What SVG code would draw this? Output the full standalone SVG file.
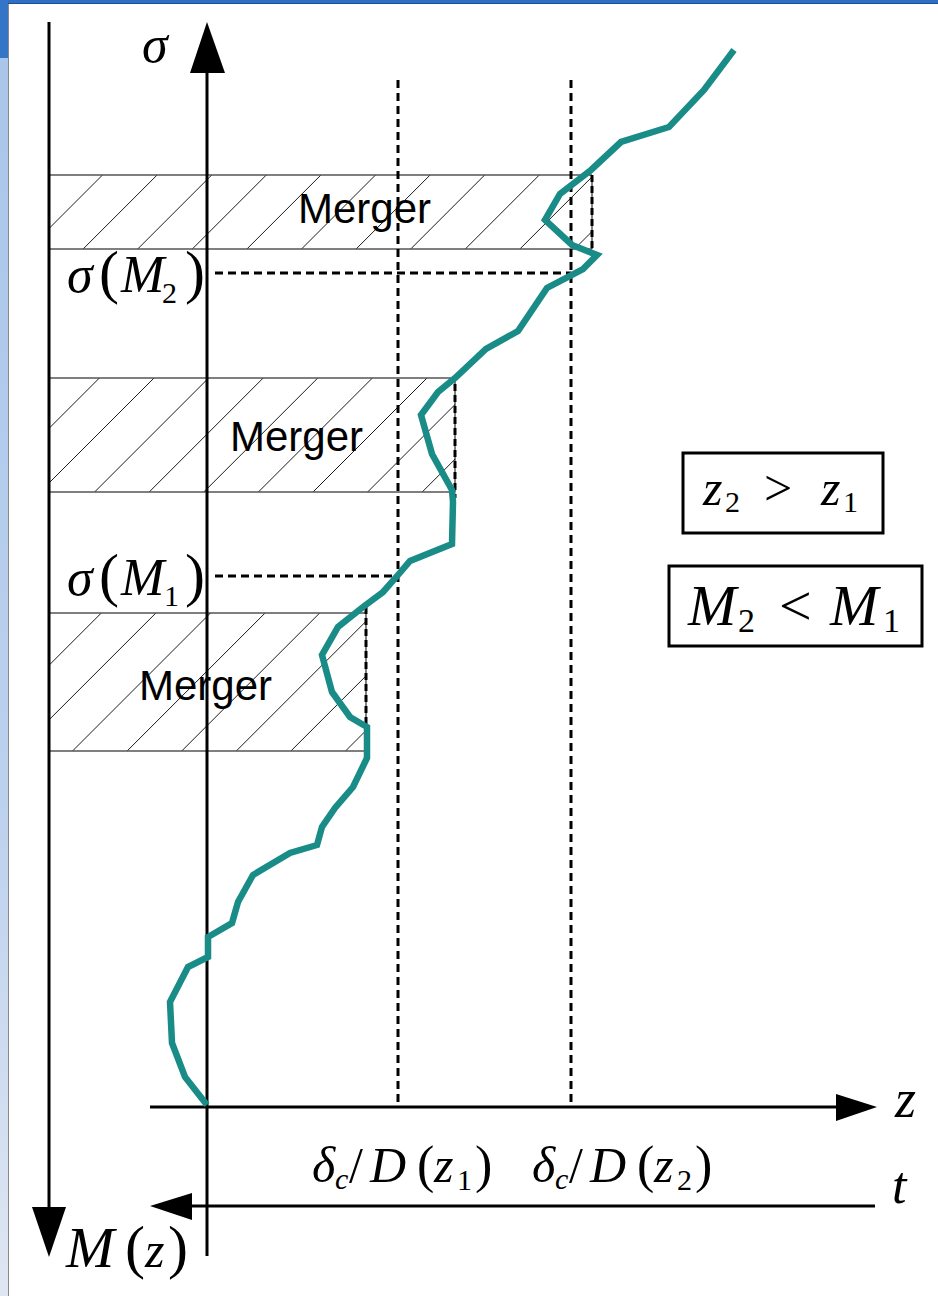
<svg xmlns="http://www.w3.org/2000/svg" width="938" height="1296" viewBox="0 0 938 1296">
<defs>
<style>
.ax{stroke:#000;stroke-width:3;fill:none}
.head{fill:#000}
.hatch{stroke:#000;stroke-width:0.9;fill:none}
.edge{stroke:#555;stroke-width:1.3;fill:none}
.dash{stroke:#000;stroke-width:3;stroke-dasharray:8 5;fill:none}
.dashr{stroke:#000;stroke-width:3;stroke-dasharray:7 4;fill:none}
.thin{stroke:#000;stroke-width:1;fill:none}
.curve{stroke:#1a8c88;stroke-width:6.5;fill:none;stroke-linejoin:miter}
.m{font-family:"Liberation Serif","Times New Roman",serif;font-style:italic;fill:#000}
.r{font-family:"Liberation Serif","Times New Roman",serif;font-style:normal;fill:#000}
.lab{font-family:"Liberation Sans",Arial,sans-serif;font-size:42px;fill:#000}
.box{fill:#fff;stroke:#000;stroke-width:3}
</style>
<linearGradient id="side" x1="0" y1="0" x2="0" y2="1">
<stop offset="0" stop-color="#a9c5ea"/>
<stop offset="0.6" stop-color="#bcd1ee"/>
<stop offset="1" stop-color="#dfe6f2"/>
</linearGradient>
<clipPath id="c1"><rect x="50" y="175" width="542" height="74"/></clipPath>
<clipPath id="c2"><rect x="50" y="378" width="405" height="114"/></clipPath>
<clipPath id="c3"><rect x="50" y="613" width="316" height="138"/></clipPath>
</defs>

<g id="frame">
<rect x="0" y="0" width="938" height="1296" fill="#fff"/>
<rect x="0" y="0" width="938" height="3" fill="#2d6fc4"/>
<line x1="0" y1="3.5" x2="938" y2="3.5" stroke="#1e4f8e" stroke-width="1"/>
<rect x="0" y="58" width="8" height="1238" fill="url(#side)"/>
<rect x="0" y="0" width="8" height="58" fill="#3575c7"/>
<line x1="8.5" y1="4" x2="8.5" y2="1296" stroke="#8a8a8a" stroke-width="1"/>
</g>

<g id="merger-1">
<path class="hatch" clip-path="url(#c1)" d="M28.5,249L102.5,175M83.1,249L157.1,175M137.7,249L211.7,175M192.3,249L266.3,175M246.9,249L320.9,175M301.5,249L375.5,175M356.1,249L430.1,175M410.7,249L484.7,175M465.3,249L539.3,175M519.9,249L593.9,175M574.5,249L648.5,175"/>
<line class="edge" x1="50" y1="175" x2="592" y2="175"/>
<line class="edge" x1="50" y1="249" x2="592" y2="249"/>
<line class="thin" x1="592" y1="175" x2="592" y2="249"/>
<line class="dashr" x1="592" y1="175" x2="592" y2="250"/>
<text class="lab" x="298" y="223">Merger</text>
</g>

<g id="merger-2">
<path class="hatch" clip-path="url(#c2)" d="M-14.6,492L99.4,378M40,492L154,378M94.6,492L208.6,378M149.2,492L263.2,378M203.8,492L317.8,378M258.4,492L372.4,378M313,492L427,378M367.6,492L481.6,378M422.2,492L536.2,378"/>
<line class="edge" x1="50" y1="378" x2="455" y2="378"/>
<line class="edge" x1="50" y1="492" x2="455" y2="492"/>
<line class="thin" x1="455" y1="378" x2="455" y2="492"/>
<line class="dashr" x1="455" y1="384" x2="455" y2="498"/>
<text class="lab" x="230" y="451">Merger</text>
</g>

<g id="merger-3">
<path class="hatch" clip-path="url(#c3)" d="M-36.7,751L101.3,613M17.9,751L155.9,613M72.5,751L210.5,613M127.1,751L265.1,613M181.7,751L319.7,613M236.3,751L374.3,613M290.9,751L428.9,613M345.5,751L483.5,613"/>
<line class="edge" x1="50" y1="613" x2="366" y2="613"/>
<line class="edge" x1="50" y1="751" x2="366" y2="751"/>
<line class="thin" x1="366" y1="613" x2="366" y2="751"/>
<line class="dashr" x1="366" y1="607" x2="366" y2="752"/>
<text class="lab" x="139" y="700">Merger</text>
</g>

<g id="connectors">
<line class="dash" x1="398" y1="80" x2="398" y2="1107"/>
<line class="dash" x1="571" y1="80" x2="571" y2="1107"/>
<line class="dash" x1="215" y1="273" x2="571" y2="273"/>
<line class="dash" x1="215" y1="576" x2="398" y2="576"/>
</g>

<g id="axes">
<line class="ax" x1="49" y1="22" x2="49" y2="1210"/>
<polygon class="head" points="32,1207 66,1207 49,1257"/>
<line class="ax" x1="207" y1="70" x2="207" y2="1256"/>
<polygon class="head" points="190,73 225,73 207,22"/>
<line class="ax" x1="150" y1="1107" x2="840" y2="1107"/>
<polygon class="head" points="836,1094 836,1121 877,1107"/>
<line class="ax" x1="188" y1="1206" x2="875" y2="1206"/>
<polygon class="head" points="192,1193 192,1220 150,1206"/>
</g>

<g id="trajectory">
<polyline class="curve" points="734,50 704,90 669,127 621,142 591,170 560,194 545,220 572,245 597,255 583,269 547,288 518,331 486,349 455,378 438,392 421,415 432,454 452,490 453,502 452,544 410,561 398,575 383,592 363,607 338,627 322,655 332,692 350,717 367,727 367,758 353,787 335,808 322,827 317,845 290,853 253,875 238,902 232,923 208,937 208,957 188,967 170,1002 172,1043 185,1077 207,1105"/>
</g>

<g id="labels">
<text class="m" x="142" y="62" font-size="52">σ</text>
<text class="m" x="895" y="1117" font-size="54">z</text>
<text class="m" x="892" y="1203" font-size="52">t</text>
<text font-size="58"><tspan class="m" x="66" y="1267">M</tspan><tspan class="r" x="125" y="1267" font-size="60">(</tspan><tspan class="m" x="145" y="1267" font-size="50">z</tspan><tspan class="r" x="168" y="1267" font-size="60">)</tspan></text>
<text font-size="52"><tspan class="m" x="67" y="292">σ</tspan><tspan class="r" x="99" y="292" font-size="60">(</tspan><tspan class="m" x="121" y="292">M</tspan><tspan class="r" x="162" y="303" font-size="30">2</tspan><tspan class="r" x="185" y="292" font-size="60">)</tspan></text>
<text font-size="52"><tspan class="m" x="67" y="595">σ</tspan><tspan class="r" x="99" y="595" font-size="60">(</tspan><tspan class="m" x="121" y="595">M</tspan><tspan class="r" x="164" y="606" font-size="30">1</tspan><tspan class="r" x="185" y="595" font-size="60">)</tspan></text>
<text font-size="50"><tspan class="m" x="312" y="1182">δ</tspan><tspan class="m" x="335" y="1189" font-size="30">c</tspan><tspan class="r" x="349" y="1182">/</tspan><tspan class="m" x="370" y="1182">D</tspan><tspan class="r" x="417" y="1182" font-size="52">(</tspan><tspan class="m" x="434" y="1182" font-size="50">z</tspan><tspan class="r" x="457" y="1190" font-size="30">1</tspan><tspan class="r" x="475" y="1182" font-size="52">)</tspan></text>
<text font-size="50"><tspan class="m" x="532" y="1182">δ</tspan><tspan class="m" x="555" y="1189" font-size="30">c</tspan><tspan class="r" x="569" y="1182">/</tspan><tspan class="m" x="590" y="1182">D</tspan><tspan class="r" x="637" y="1182" font-size="52">(</tspan><tspan class="m" x="654" y="1182" font-size="50">z</tspan><tspan class="r" x="677" y="1190" font-size="30">2</tspan><tspan class="r" x="695" y="1182" font-size="52">)</tspan></text>
</g>

<g id="cond-z">
<rect class="box" x="683" y="453" width="200" height="80"/>
<text font-size="50"><tspan class="m" x="703" y="505">z</tspan><tspan class="r" x="725" y="512" font-size="30">2</tspan><tspan class="r" x="764" y="505">&gt;</tspan><tspan class="m" x="821" y="505">z</tspan><tspan class="r" x="843" y="512" font-size="30">1</tspan></text>
</g>

<g id="cond-m">
<rect class="box" x="669" y="566" width="253" height="80"/>
<text font-size="58"><tspan class="m" x="688" y="625">M</tspan><tspan class="r" x="738" y="632" font-size="34">2</tspan><tspan class="r" x="779" y="625">&lt;</tspan><tspan class="m" x="830" y="625">M</tspan><tspan class="r" x="883" y="632" font-size="34">1</tspan></text>
</g>
</svg>
